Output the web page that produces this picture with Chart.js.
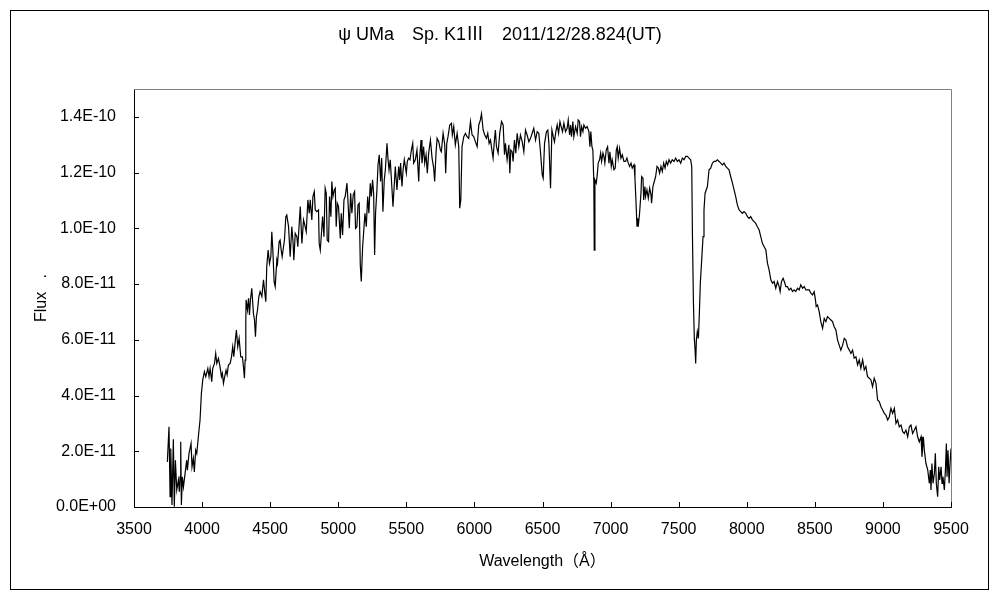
<!DOCTYPE html>
<html>
<head>
<meta charset="utf-8">
<script src="https://cdn.jsdelivr.net/npm/chart.js@4.4.0/dist/chart.umd.min.js"></script>
<style>
body { margin: 0; background: #fff; }
#wrap { width: 1000px; height: 600px; }
</style>
</head>
<body>
<div id="wrap"><canvas id="spectrum" width="1000" height="600"></canvas></div>
<script>
// psi UMa spectrum, flux given in units of 1E-12
const FLUX_UNIT = 1e-12;

const wavelength = [
  3745, 3757, 3765, 3770, 3779, 3789, 3796, 3804, 3814, 3826, 3833, 3838, 3843, 3848, 3855, 3863,
  3875, 3887, 3892, 3904, 3919, 3926, 3936, 3943, 3953, 3961, 3968, 3975, 3985, 3995, 4005, 4017,
  4027, 4042, 4051, 4059, 4071, 4078, 4091, 4100, 4108, 4120, 4132, 4142, 4149, 4157, 4166, 4176,
  4184, 4193, 4206, 4216, 4225, 4233, 4242, 4252, 4262, 4272, 4284, 4296, 4304, 4311, 4316, 4321,
  4323, 4333, 4341, 4348, 4355, 4365, 4377, 4385, 4392, 4399, 4407, 4417, 4426, 4439, 4451, 4461,
  4468, 4475, 4485, 4495, 4505, 4512, 4519, 4529, 4537, 4549, 4554, 4566, 4573, 4581, 4588, 4598,
  4605, 4615, 4622, 4635, 4647, 4659, 4667, 4674, 4684, 4696,
  4703, 4721, 4733, 4745, 4757, 4765, 4777, 4787, 4794, 4806, 4814, 4824, 4831, 4843, 4855, 4860,
  4868, 4875, 4885, 4895, 4904, 4912, 4919, 4929, 4936, 4946, 4953, 4961, 4971, 4978, 4985, 4993,
  5002, 5015, 5022, 5032, 5042, 5051, 5064, 5071, 5081, 5091, 5100, 5110, 5120, 5127, 5137, 5145,
  5154, 5162, 5169, 5179, 5186, 5196, 5206, 5216, 5225, 5235, 5243, 5252, 5260, 5267, 5274, 5284,
  5292, 5301, 5311, 5319, 5328, 5338, 5346, 5358, 5365, 5373, 5382, 5392, 5402, 5412, 5419, 5431,
  5444, 5451, 5458, 5468, 5476, 5485, 5500, 5507, 5517, 5527, 5537, 5547, 5554, 5566, 5578, 5591,
  5596, 5608, 5615, 5627, 5635, 5645, 5654, 5664,
  5677, 5689, 5701, 5708, 5718, 5726, 5738, 5750, 5757, 5770, 5782, 5789, 5797, 5806, 5819, 5831,
  5838, 5848, 5860, 5873, 5885, 5892, 5900, 5909, 5922, 5934, 5946, 5958, 5971, 5983, 5995, 6007,
  6020, 6032, 6044, 6052, 6064, 6076, 6088, 6098, 6108, 6118, 6130, 6137, 6147, 6154, 6162, 6174,
  6186, 6199, 6211, 6221, 6228, 6240, 6253, 6260, 6267, 6277, 6284, 6294, 6304, 6314, 6326, 6338,
  6351, 6363, 6375, 6387, 6400, 6412, 6424, 6436, 6449, 6461, 6473, 6485, 6498, 6505, 6515, 6529,
  6539, 6547, 6559, 6569, 6579, 6588, 6598, 6608, 6618, 6628, 6637, 6647, 6657,
  6669, 6681, 6689, 6699, 6706, 6713, 6723, 6730, 6743, 6755, 6762, 6772, 6779, 6787, 6797, 6804,
  6816, 6828, 6841, 6848, 6855, 6863, 6870, 6877, 6880, 6885, 6895, 6902, 6909, 6919, 6927, 6934,
  6944, 6951, 6958, 6968, 6978, 6988, 6995, 7005, 7012, 7025, 7034, 7042, 7049, 7056, 7066, 7076,
  7086, 7098, 7110, 7120, 7130, 7140, 7150, 7159, 7172, 7179, 7186, 7194, 7199, 7203, 7213, 7223,
  7228, 7238, 7243, 7252, 7257, 7267, 7277, 7287, 7297, 7301, 7311, 7321, 7331, 7341, 7351, 7360,
  7370, 7380, 7390, 7400, 7409, 7419, 7429, 7441, 7453, 7466, 7478, 7490, 7502, 7515, 7527, 7539,
  7552, 7564, 7576, 7588, 7596, 7601, 7608, 7615, 7620, 7625, 7630, 7637, 7645, 7652, 7659, 7669,
  7679, 7686, 7694,
  7711, 7723, 7735, 7748, 7760, 7772, 7784, 7797, 7809, 7821, 7833, 7846, 7858, 7870, 7882, 7895,
  7907, 7919, 7931, 7944, 7956, 7968, 7980, 7993, 8005, 8017, 8029, 8042, 8054, 8066, 8078, 8091,
  8103, 8115, 8128,
  8140, 8152, 8164, 8177, 8189, 8201, 8213, 8226, 8238, 8245, 8255, 8267, 8280, 8287, 8299, 8311,
  8324, 8336, 8348, 8360, 8373, 8385, 8397, 8410, 8422, 8434, 8446, 8459, 8471, 8483, 8495, 8503,
  8510, 8520, 8532, 8544, 8557, 8569, 8581, 8593, 8606, 8618, 8630, 8642, 8655, 8667, 8679, 8691,
  8704, 8716, 8728, 8740, 8753, 8765, 8777, 8789, 8802, 8814, 8826, 8838, 8851, 8863, 8875, 8887,
  8900, 8912, 8924, 8936, 8949, 8961, 8973, 8986, 8998, 9010, 9022, 9035, 9047, 9059, 9071, 9084,
  9096, 9108, 9120, 9133, 9145, 9157, 9169, 9182, 9194, 9206, 9218, 9231, 9243, 9255, 9267, 9280,
  9287, 9297, 9304, 9316, 9329, 9341, 9348, 9353, 9360, 9368, 9378, 9385, 9392, 9402, 9410, 9417,
  9427, 9434, 9441, 9451, 9459, 9466, 9471, 9478, 9486, 9493, 9500
];

const flux = [
  16.2, 28.8, 3.7, 21.0, 0.7, 24.3, 0.1, 16.8, 6.1, 9.7, 5.5, 10.8, 23.4, 0.7, 10.8, 7.2,
  12.0, 16.8, 13.2, 19.2, 22.8, 14.4, 17.4, 12.6, 20.4, 19.2, 22.8, 26.4, 31.2, 40.8, 45.6, 48.6,
  46.8, 49.7, 46.8, 49.7, 45.0, 49.7, 51.5, 55.1, 51.5, 53.3, 50.3, 46.8, 48.0, 44.4, 46.8, 49.1,
  47.4, 50.9, 51.5, 53.9, 57.5, 53.9, 58.7, 63.5, 57.5, 60.5, 53.9, 53.9, 50.3, 46.2, 52.7, 65.9,
  74.3, 70.7, 74.9, 68.9, 74.3, 78.5, 69.5, 67.1, 61.1, 68.3, 70.7, 75.5, 77.3, 75.5, 81.5, 76.7,
  73.7, 86.3, 92.2, 87.4, 89.8, 98.8, 92.8, 80.9, 79.1, 88.6, 87.4, 95.2, 95.8, 92.2, 89.8, 93.4,
  95.8, 104.2, 104.8, 100.6, 89.8, 100.6, 95.8, 88.6, 98.2, 97.0,
  93.4, 107.8, 94.6, 103.0, 100.6, 98.8, 110.2, 105.4, 110.2, 103.0, 111.4, 113.2, 106.6, 106.0, 106.6, 94.6,
  92.2, 97.0, 104.2, 97.0, 114.4, 112.6, 95.8, 95.2, 111.4, 104.2, 116.8, 111.4, 113.8, 114.4, 100.6, 109.0,
  107.8, 96.4, 105.4, 97.6, 110.2, 111.4, 116.2, 110.2, 100.0, 112.6, 105.4, 112.0, 113.2, 100.0, 100.6, 108.4,
  109.0, 86.8, 80.9, 93.4, 98.2, 105.4, 100.6, 111.4, 105.4, 116.2, 111.4, 117.4, 112.6, 90.4, 105.4, 113.8,
  122.8, 126.4, 116.8, 125.2, 106.0, 117.4, 121.0, 130.5, 125.2, 121.0, 124.6, 116.2, 107.8, 116.2, 122.2, 113.8,
  122.2, 117.4, 123.4, 115.0, 121.0, 124.6, 119.8, 124.0, 125.2, 124.6, 128.1, 130.5, 123.4, 124.6, 128.1, 116.8,
  124.0, 131.7, 123.4, 129.3, 123.4, 126.4, 119.8, 127.0,
  131.7, 125.2, 121.6, 116.8, 127.0, 132.3, 131.1, 128.1, 127.5, 134.1, 130.0, 119.8, 130.5, 132.9, 137.1, 137.7,
  133.5, 136.5, 130.0, 134.1, 129.3, 107.2, 110.2, 129.3, 132.9, 134.1, 132.9, 132.3, 138.3, 133.5, 132.9, 131.1,
  129.3, 137.1, 138.9, 141.1, 135.3, 133.5, 132.3, 134.1, 130.5, 131.7, 127.5, 125.2, 131.7, 135.3, 129.3, 127.0,
  134.1, 138.3, 137.1, 126.4, 130.5, 124.6, 130.0, 119.8, 128.1, 127.5, 124.0, 131.7, 127.0, 134.1, 129.3, 133.5,
  131.1, 127.5, 135.3, 133.5, 131.1, 132.3, 134.1, 135.9, 131.7, 134.7, 134.1, 127.5, 119.2, 118.0, 130.5, 134.7,
  135.3, 130.5, 114.4, 135.3, 132.9, 131.1, 134.7, 137.1, 134.1, 138.3, 136.5, 134.7, 137.7,
  134.7, 135.9, 138.9, 133.5, 137.1, 132.9, 138.3, 132.9, 136.5, 134.1, 138.9, 138.3, 132.9, 136.5, 134.7, 137.1,
  135.9, 136.5, 134.7, 129.3, 134.7, 129.3, 128.1, 116.2, 92.2, 117.4, 116.2, 119.2, 123.4, 124.6, 127.0, 124.0,
  127.0, 125.8, 123.4, 128.1, 129.3, 123.4, 127.5, 122.2, 124.6, 121.0, 121.6, 128.1, 129.3, 125.2, 128.7, 125.2,
  126.4, 124.0, 124.0, 125.2, 123.4, 122.2, 123.4, 121.6, 122.8, 118.0, 110.2, 100.6, 103.6, 100.6, 105.4, 112.6,
  118.6, 118.0, 110.2, 115.0, 111.4, 113.8, 110.8, 114.4, 112.0, 109.0, 115.0, 116.8, 118.6, 122.2, 121.6, 119.8,
  122.2, 120.4, 123.4, 121.6, 124.0, 122.8, 124.6, 123.4, 124.6, 124.0, 125.2, 124.0, 124.6, 123.4, 125.2, 124.6,
  125.8, 125.8, 125.2, 124.6, 122.2, 98.2, 74.3, 60.5, 56.9, 51.5, 59.9, 62.9, 60.5, 69.5, 80.3, 88.6,
  97.0, 106.6, 112.6,
  115.0, 121.0, 121.6, 123.4, 124.0, 124.0, 124.6, 124.0, 123.4, 122.8, 123.4, 122.2, 121.6, 121.0, 118.6, 116.2,
  113.8, 111.4, 108.4, 106.6, 106.0, 105.4, 106.0, 105.4, 104.2, 103.6, 104.2, 103.0, 102.4, 101.8, 100.6, 99.4,
  97.0, 94.6, 93.4,
  92.3, 87.5, 85.1, 81.5, 80.3, 80.9, 78.5, 80.9, 79.1, 77.3, 80.9, 82.1, 80.3, 79.1, 79.1, 77.9,
  78.5, 77.3, 77.9, 77.3, 78.5, 77.9, 79.7, 78.5, 79.1, 77.9, 77.9, 77.9, 76.7, 76.1, 77.3, 74.9,
  71.9, 72.5, 70.1, 66.5, 64.1, 67.7, 66.5, 68.3, 67.7, 67.1, 66.5, 64.7, 63.5, 59.9, 58.1, 56.3,
  58.1, 60.5, 59.9, 57.5, 56.3, 55.1, 56.3, 53.4, 53.9, 51.0, 52.8, 49.8, 52.8, 49.2, 50.4, 46.8,
  46.2, 45.6, 43.2, 46.2, 44.4, 38.4, 37.8, 36.0, 34.8, 33.6, 33.0, 31.2, 32.4, 35.4, 33.6, 35.4,
  30.0, 31.2, 28.8, 29.4, 27.0, 26.4, 27.6, 25.2, 28.8, 29.4, 26.4, 27.6, 28.8, 25.2, 23.4, 25.2,
  18.0, 25.2, 20.4, 15.6, 13.3, 8.5, 13.3, 6.1, 15.6, 8.5, 12.1, 19.3, 8.5, 3.7, 14.4, 9.7,
  14.4, 8.5, 10.9, 6.1, 13.3, 22.8, 10.9, 20.4, 8.5, 15.6, 21.0
];

const xTickValues = [3500, 4000, 4500, 5000, 5500, 6000, 6500, 7000, 7500, 8000, 8500, 9000, 9500];
const yTickValues = [0, 20, 40, 60, 80, 100, 120, 140];
const Y_MAX = 150;

const chartTitle = 'ψ UMa\u3000Sp. K1\u2162\u30002011/12/28.824(UT)';
const FONT = '"Liberation Sans", "Noto Sans CJK JP", sans-serif';

function formatFlux(v) {
    if (v === 0) return '0.0E+00';
    const parts = (v * FLUX_UNIT).toExponential(1).split('e');
    const exp = parseInt(parts[1], 10);
    const sign = exp < 0 ? '-' : '+';
    return parts[0] + 'E' + sign + String(Math.abs(exp)).padStart(2, '0');
}

// frame, title, inner tick marks, grey top/right border
const excelFrame = {
    id: 'excelFrame',
    beforeDraw(chart) {
        const ctx = chart.ctx;
        ctx.save();
        ctx.fillStyle = '#fff';
        ctx.fillRect(0, 0, chart.width, chart.height);
        ctx.restore();
    },
    afterDraw(chart) {
        const ctx = chart.ctx;
        const area = chart.chartArea;
        const xs = chart.scales.x;
        const ys = chart.scales.y;
        ctx.save();
        ctx.lineWidth = 1;

        ctx.strokeStyle = '#808080';
        ctx.beginPath();
        ctx.moveTo(area.left, area.top + 0.5);
        ctx.lineTo(area.right + 0.5, area.top + 0.5);
        ctx.lineTo(area.right + 0.5, area.bottom);
        ctx.stroke();

        ctx.strokeStyle = '#000';
        ctx.beginPath();
        xTickValues.forEach(v => {
            const px = Math.round(xs.getPixelForValue(v)) + 0.5;
            ctx.moveTo(px, area.bottom);
            ctx.lineTo(px, area.bottom - 5);
        });
        yTickValues.forEach(v => {
            const py = Math.round(ys.getPixelForValue(v)) + 0.5;
            ctx.moveTo(area.left, py);
            ctx.lineTo(area.left + 5, py);
        });
        ctx.stroke();

        ctx.strokeRect(10.5, 10.5, 978, 579);

        ctx.fillStyle = '#000';
        ctx.font = '18px ' + FONT;
        ctx.textAlign = 'center';
        ctx.textBaseline = 'middle';
        ctx.fillText(chartTitle, 500, 35);
        ctx.restore();
    }
};

const ctx = document.getElementById('spectrum').getContext('2d');
const spectrumChart = new Chart(ctx, {
    type: 'line',
    data: {
        datasets: [{
            data: wavelength.map((w, i) => ({ x: w, y: flux[i] })),
            borderColor: '#000',
            borderWidth: 1.2,
            pointRadius: 0,
            tension: 0,
            fill: false
        }]
    },
    options: {
        responsive: false,
        animation: false,
        devicePixelRatio: 1,
        layout: { padding: { left: 0, top: 89, right: 49, bottom: 0 } },
        plugins: {
            legend: { display: false },
            tooltip: { enabled: false }
        },
        scales: {
            x: {
                type: 'linear',
                min: 3500,
                max: 9500,
                afterBuildTicks: scale => { scale.ticks = xTickValues.map(v => ({ value: v })); },
                afterFit: scale => { scale.height = 93; },
                grid: { display: false },
                border: { display: true, color: '#000', width: 1 },
                ticks: {
                    padding: 5,
                    maxRotation: 0,
                    color: '#000',
                    font: { family: FONT, size: 16 },
                    callback: v => String(v)
                },
                title: {
                    display: true,
                    text: 'Wavelength\uFF08Å\uFF09',
                    color: '#000',
                    font: { family: FONT, size: 16 },
                    padding: { top: 0, bottom: 29 }
                }
            },
            y: {
                min: 0,
                max: Y_MAX,
                afterBuildTicks: scale => { scale.ticks = yTickValues.map(v => ({ value: v })); },
                afterFit: scale => { scale.width = 134; },
                grid: { display: false },
                border: { display: true, color: '#000', width: 1 },
                ticks: {
                    padding: 10,
                    color: '#000',
                    font: { family: FONT, size: 16 },
                    callback: v => formatFlux(v)
                },
                title: {
                    display: true,
                    text: 'Flux   .',
                    color: '#000',
                    font: { family: FONT, size: 16 },
                    padding: { top: 32, bottom: 0 }
                }
            }
        }
    },
    plugins: [excelFrame]
});
</script>
</body>
</html>
